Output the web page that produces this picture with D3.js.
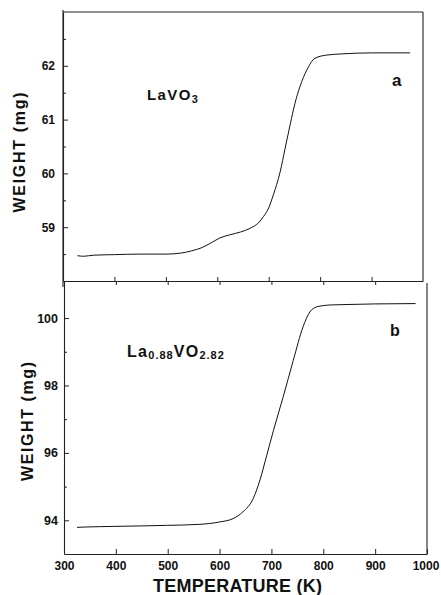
<!DOCTYPE html>
<html>
<head>
<meta charset="utf-8">
<script src="https://cdn.jsdelivr.net/npm/d3@7"></script>
<style>
  body { margin: 0; background: #fff; }
  svg { font-family: "Liberation Sans", Arial, sans-serif; font-weight: bold; }
</style>
</head>
<body>
<script>
// panel a: LaVO3
const tempA = [328, 340, 360, 400, 450, 500, 530, 550, 570, 590, 605, 625, 645, 664, 680, 690, 700, 709, 722, 732, 742, 751, 761, 774, 790, 813, 840, 900, 975]
const weightA = [58.47, 58.46, 58.48, 58.49, 58.5, 58.5, 58.52, 58.56, 58.62, 58.72, 58.8, 58.86, 58.91, 58.98, 59.08, 59.2, 59.36, 59.6, 60.02, 60.47, 60.92, 61.3, 61.62, 61.92, 62.14, 62.2, 62.22, 62.24, 62.24]
// panel b: La0.88VO2.82
const tempB = [325, 340, 400, 500, 562, 600, 626, 645, 665, 678, 691, 704, 723, 742, 761, 774, 787, 800, 815, 840, 900, 978]
const weightB = [93.79, 93.8, 93.82, 93.85, 93.88, 93.95, 94.05, 94.25, 94.65, 95.2, 95.93, 96.67, 97.68, 98.74, 99.74, 100.18, 100.33, 100.37, 100.39, 100.4, 100.42, 100.43]

const xTicks = [300, 400, 500, 600, 700, 800, 900, 1000]
const yTicksA = [59, 60, 61, 62]
const yMinorA = [58.5, 59.5, 60.5, 61.5, 62.5]
const yTicksB = [94, 96, 98, 100]
const yMinorB = [95, 97, 99]

const W = 441, H = 595

const svg = d3.select('body').append('svg')
    .attr('width', W)
    .attr('height', H)

const xA = d3.scaleLinear().domain([300, 1000]).range([63, 423])
const yA = d3.scaleLinear().domain([58, 63]).range([281, 12])
const xB = d3.scaleLinear().domain([300, 1000]).range([64, 427])
const yB = d3.scaleLinear().domain([93, 101.1]).range([554, 281])

function styleAxis(g, size) {
    g.selectAll('path.domain').attr('stroke', '#222').attr('stroke-width', 1.1)
    g.selectAll('.tick line').attr('stroke', '#222').attr('stroke-width', 1)
    g.selectAll('text')
        .attr('fill', '#111')
        .style('font-size', size + 'px')
        .style('font-family', '"Liberation Sans", Arial, sans-serif')
        .style('font-weight', 'bold')
}

// frames
const frame = svg.append('g').attr('fill', 'none').attr('stroke', '#222').attr('stroke-width', 1.1)
frame.append('line').attr('x1', xA(300)).attr('x2', xA(1000)).attr('y1', yA(63)).attr('y2', yA(63))
frame.append('line').attr('x1', xA(1000)).attr('x2', xA(1000)).attr('y1', yA(63)).attr('y2', yA(58))
frame.append('line').attr('x1', xB(1000)).attr('x2', xB(1000)).attr('y1', yB(101.1) + 2).attr('y2', yB(93))
frame.append('line').attr('x1', xA(300)).attr('x2', xA(300)).attr('y1', yA(63) - 2).attr('y2', yA(58) + 6)

// panel a axes
svg.append('g').attr('transform', `translate(${xA(300)},0)`)
    .call(d3.axisLeft(yA).tickValues(yTicksA).tickFormat(d3.format('d')).tickSizeInner(-5).tickSizeOuter(0).tickPadding(8))
    .call(g => styleAxis(g, 12))
svg.append('g').attr('transform', `translate(${xA(300)},0)`)
    .call(d3.axisLeft(yA).tickValues(yMinorA).tickSizeInner(-3).tickSizeOuter(0).tickFormat(''))
    .call(g => styleAxis(g, 12))
    .call(g => g.select('.domain').remove())
svg.append('g').attr('transform', `translate(0,${yA(58)})`)
    .call(d3.axisBottom(xA).tickValues(xTicks.slice(1, -1)).tickSizeInner(-4).tickSizeOuter(0).tickFormat(''))
    .call(g => styleAxis(g, 12))

// panel b axes
svg.append('g').attr('transform', `translate(${xB(300)},0)`)
    .call(d3.axisLeft(yB).tickValues(yTicksB).tickFormat(d3.format('d')).tickSizeInner(-5).tickSizeOuter(0).tickPadding(6))
    .call(g => styleAxis(g, 12.5))
svg.append('g').attr('transform', `translate(${xB(300)},0)`)
    .call(d3.axisLeft(yB).tickValues(yMinorB).tickSizeInner(-3).tickSizeOuter(0).tickFormat(''))
    .call(g => styleAxis(g, 12))
    .call(g => g.select('.domain').remove())
svg.append('g').attr('transform', `translate(0,${yB(101.1)})`)
    .call(d3.axisTop(xB).tickValues(xTicks.slice(1, -1)).tickSizeInner(-4).tickSizeOuter(0).tickFormat(''))
    .call(g => styleAxis(g, 12))
    .call(g => g.select('.domain').remove())
svg.append('g').attr('transform', `translate(0,${yB(93)})`)
    .call(d3.axisBottom(xB).tickValues(xTicks).tickFormat(d3.format('d')).tickSizeInner(-5).tickSizeOuter(0).tickPadding(7))
    .call(g => styleAxis(g, 12))
    .call(g => g.selectAll('.tick:last-of-type text').attr('dx', -1.5))

// curves
const lineA = d3.line().x((d, i) => xA(tempA[i])).y(d => yA(d)).curve(d3.curveMonotoneX)
const lineB = d3.line().x((d, i) => xB(tempB[i])).y(d => yB(d)).curve(d3.curveMonotoneX)
svg.append('path').datum(weightA).attr('d', lineA)
    .attr('fill', 'none').attr('stroke', '#111').attr('stroke-width', 1)
svg.append('path').datum(weightB).attr('d', lineB)
    .attr('fill', 'none').attr('stroke', '#111').attr('stroke-width', 1)

// axis titles
svg.append('text')
    .attr('transform', `translate(25,${(yA(63) + yA(58)) / 2 + 6}) rotate(-90)`)
    .attr('text-anchor', 'middle')
    .attr('textLength', 120).attr('lengthAdjust', 'spacing')
    .style('font-size', '16px').attr('fill', '#111')
    .text('WEIGHT (mg)')
svg.append('text')
    .attr('transform', `translate(33,${(yB(101.1) + yB(93)) / 2 + 4}) rotate(-90)`)
    .attr('text-anchor', 'middle')
    .attr('textLength', 119).attr('lengthAdjust', 'spacing')
    .style('font-size', '16px').attr('fill', '#111')
    .text('WEIGHT (mg)')
svg.append('text')
    .attr('x', 153).attr('y', 592)
    .attr('textLength', 169).attr('lengthAdjust', 'spacing')
    .style('font-size', '18px').attr('fill', '#111')
    .text('TEMPERATURE (K)')

// compound labels
const labA = svg.append('text').attr('x', 147).attr('y', 100)
    .style('font-size', '15px').style('letter-spacing', '1.4px').attr('fill', '#111')
labA.append('tspan').text('LaVO')
labA.append('tspan').attr('dy', 3).style('font-size', '11px').text('3')

const labB = svg.append('text').attr('x', 127).attr('y', 357)
    .style('font-size', '16px').style('letter-spacing', '1.3px').attr('fill', '#111')
labB.append('tspan').text('La')
labB.append('tspan').attr('dy', 2).style('font-size', '11px').style('letter-spacing', '1px').text('0.88')
labB.append('tspan').attr('dy', -2).text('VO')
labB.append('tspan').attr('dy', 2).style('font-size', '11px').style('letter-spacing', '1px').text('2.82')

svg.append('text').attr('x', 392).attr('y', 86)
    .style('font-size', '17px').attr('fill', '#111').text('a')
svg.append('text').attr('x', 390).attr('y', 336)
    .style('font-size', '16px').attr('fill', '#111').text('b')
</script>
</body>
</html>
